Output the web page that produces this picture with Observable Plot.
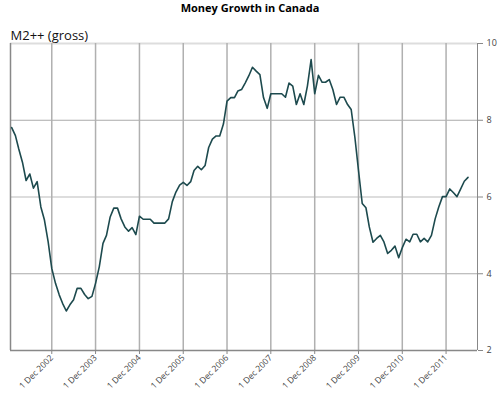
<!DOCTYPE html>
<html>
<head>
<meta charset="utf-8">
<script src="https://cdn.jsdelivr.net/npm/d3@7"></script>
<script src="https://cdn.jsdelivr.net/npm/@observablehq/plot@0.6"></script>
<style>
  body { margin: 0; background: white; }
  #title { height: 22px; line-height: 16px; text-align: center; font: bold 11px "Open Sans", sans-serif; color: #000; width: 500px; }
</style>
</head>
<body>
<div id="title">Money Growth in Canada</div>
<div id="chart"></div>
<script>
// Monthly M2++ (gross) growth, Jan 2002 – Jun 2012
const startYear = 2002, startMonth = 0;
const values = [
  7.81, 7.6, 7.25, 6.9, 6.43, 6.6, 6.23, 6.4, 5.74, 5.4, 4.83, 4.14,
  3.75, 3.45, 3.23, 3.03, 3.19, 3.32, 3.62, 3.62, 3.46, 3.35, 3.41, 3.75,
  4.18, 4.79, 5.0, 5.48, 5.71, 5.71, 5.43, 5.22, 5.11, 5.2, 5.02, 5.5,
  5.42, 5.42, 5.42, 5.32, 5.32, 5.32, 5.32, 5.43, 5.88, 6.13, 6.31, 6.38,
  6.30, 6.40, 6.69, 6.80, 6.71, 6.82, 7.29, 7.51, 7.59, 7.59, 7.90, 8.50,
  8.59, 8.59, 8.76, 8.80, 8.97, 9.16, 9.38, 9.28, 9.19, 8.59, 8.31, 8.69,
  8.69, 8.69, 8.69, 8.60, 8.97, 8.89, 8.41, 8.69, 8.41, 8.89, 9.58, 8.69,
  9.17, 8.99, 8.99, 9.06, 8.80, 8.41, 8.60, 8.60, 8.41, 8.28, 7.55, 6.69,
  5.83, 5.72, 5.22, 4.82, 4.92, 5.00, 4.83, 4.53, 4.61, 4.72, 4.42, 4.68,
  4.90, 4.83, 5.03, 5.03, 4.83, 4.92, 4.83, 5.00, 5.43, 5.74, 6.01, 6.01,
  6.21, 6.11, 6.01, 6.21, 6.41, 6.51
];
const tickYears = [2002, 2003, 2004, 2005, 2006, 2007, 2008, 2009, 2010, 2011];
const yTicks = [2, 4, 6, 8, 10];
const yLabel = "M2++ (gross)";

const data = values.map((v, i) => ({date: new Date(Date.UTC(startYear, startMonth + i, 1)), value: v}));
const tickDates = tickYears.map(y => new Date(Date.UTC(y, 11, 1)));
const xDomain = [new Date(Date.UTC(2001, 11, 22)), new Date(Date.UTC(2012, 7, 19))];

const chart = Plot.plot({
  width: 500,
  height: 371,
  marginTop: 21,
  marginLeft: 10,
  marginRight: 23,
  marginBottom: 43,
  style: {fontFamily: "'Open Sans', sans-serif", color: "#666", background: "white"},
  x: {type: "utc", domain: xDomain},
  y: {domain: [2, 10]},
  marks: [
    Plot.ruleY([4, 8], {stroke: "#aaa", strokeWidth: 1.2}),
    Plot.ruleY([6, 10], {stroke: "#ddd", strokeWidth: 2}),
    Plot.ruleX(tickDates, {stroke: "#b0b0b0", strokeWidth: 1.5}),
    Plot.ruleX([xDomain[0]], {stroke: "#888", strokeWidth: 1.5}),
    Plot.ruleX([xDomain[1]], {stroke: "#888", strokeWidth: 1}),
    Plot.ruleY([2], {stroke: "#888", strokeWidth: 1.5}),
    Plot.axisX(tickDates, {
      tickFormat: d => "1 Dec " + d.getUTCFullYear(),
      tickRotate: -45, tickSize: 4, tickPadding: 2, fontSize: 8.5, label: null, stroke: "#888", fill: "#444"
    }),
    Plot.axisY(yTicks, {anchor: "right", tickSize: 5, fontSize: 9, label: null, stroke: "#888", fill: "#444"}),
    Plot.line(data, {x: "date", y: "value", stroke: "#1d4a4e", strokeWidth: 1.6}),
    Plot.text([yLabel], {frameAnchor: "top-left", textAnchor: "start", lineAnchor: "bottom", dy: -4, fontSize: 13, fill: "#111"})
  ]
});
document.getElementById("chart").append(chart);
</script>
</body>
</html>
